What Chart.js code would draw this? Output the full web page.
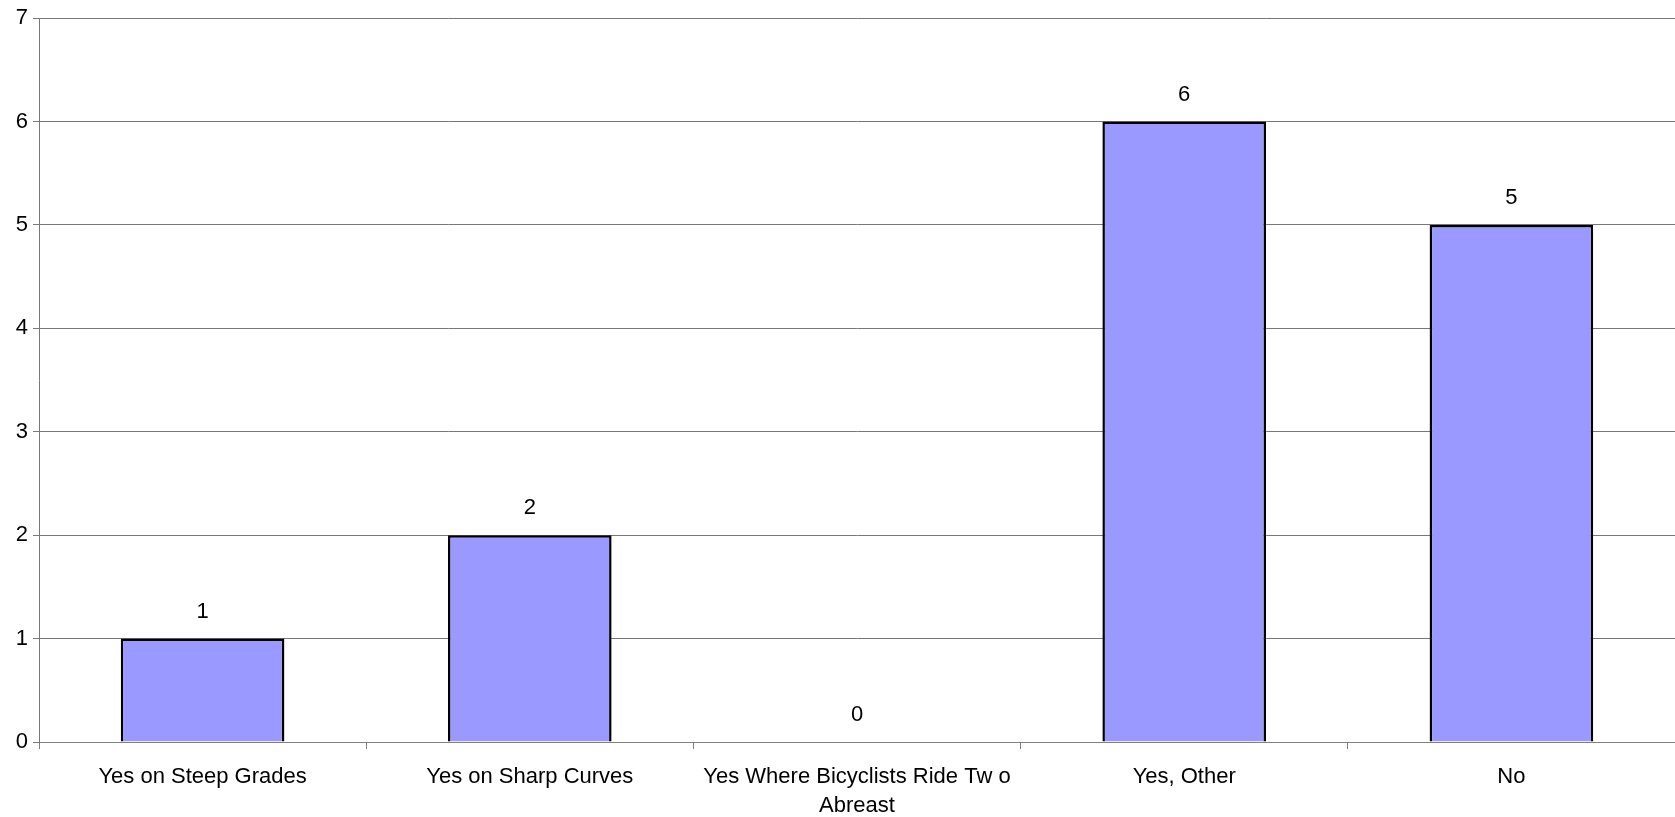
<!DOCTYPE html>
<html>
<head>
<meta charset="utf-8">
<script src="https://cdn.jsdelivr.net/npm/chart.js@4/dist/chart.umd.min.js"></script>
<style>
  html, body { margin: 0; padding: 0; background: #fff; }
  #wrap { width: 1675px; height: 817px; }
</style>
</head>
<body>
<div id="wrap"><canvas id="chart"></canvas></div>
<script>
const categories = [
  "Yes on Steep Grades",
  "Yes on Sharp Curves",
  ["Yes Where Bicyclists Ride Tw o", "Abreast"],
  "Yes, Other",
  "No"
];
const counts = [1, 2, 0, 6, 5];

const fontFamily = "'Liberation Sans', Arial, sans-serif";

// draws the value above each bar
const valueLabels = {
  id: "valueLabels",
  afterDatasetsDraw(chart) {
    const ctx = chart.ctx;
    const meta = chart.getDatasetMeta(0);
    ctx.save();
    ctx.font = "22px " + fontFamily;
    ctx.fillStyle = "#000";
    ctx.textAlign = "center";
    ctx.textBaseline = "middle";
    meta.data.forEach((bar, i) => {
      ctx.fillText(String(counts[i]), bar.x, bar.y - 27);
    });
    ctx.restore();
  }
};

new Chart(document.getElementById("chart"), {
  type: "bar",
  data: {
    labels: categories,
    datasets: [
      {
        data: counts,
        backgroundColor: "#9999ff",
        borderColor: "#000",
        borderWidth: 2.5,
        barPercentage: 0.5,
        categoryPercentage: 1,
      },
    ],
  },
  options: {
    responsive: true,
    maintainAspectRatio: false,
    animation: false,
    layout: { padding: { top: 15, right: 0, left: 0, bottom: 0 } },
    plugins: {
      legend: { display: false },
      tooltip: { enabled: false },
    },
    scales: {
      x: {
        offset: true,
        grid: {
          offset: true,
          drawOnChartArea: false,
          drawTicks: true,
          tickLength: 7,
          color: "#808080",
        },
        border: { color: "#808080", width: 1 },
        ticks: {
          color: "#000",
          font: { family: fontFamily, size: 22, lineHeight: 1.33 },
          maxRotation: 0,
          autoSkip: false,
          padding: 13,
        },
        afterFit(scale) { scale.height = 75; },
      },
      y: {
        min: 0,
        max: 7,
        ticks: {
          stepSize: 1,
          color: "#000",
          font: { family: fontFamily, size: 22 },
          padding: 5,
        },
        grid: {
          color: "#777",
          lineWidth: 1,
          tickLength: 6,
        },
        border: { color: "#777", width: 1 },
        afterFit(scale) { scale.width = 39; },
      },
    },
  },
  plugins: [valueLabels],
});
</script>
</body>
</html>
